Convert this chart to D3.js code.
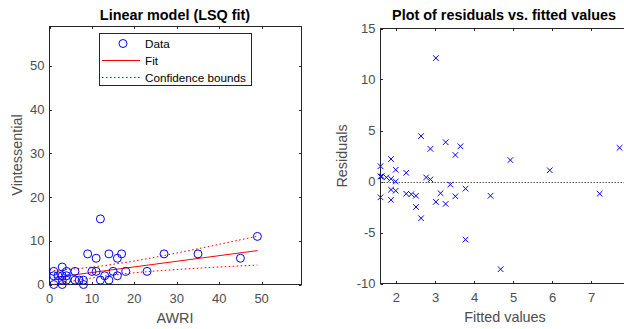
<!DOCTYPE html>
<html><head><meta charset="utf-8">
<script src="https://cdn.jsdelivr.net/npm/d3@7"></script>
<style>
html,body{margin:0;padding:0;background:#fff;}
svg{display:block;font-family:"Liberation Sans",Arial,sans-serif;}
</style></head>
<body><svg id="c" width="624" height="329"></svg>
<script>
// Left panel: observed data (AWRI vs Vintessential)
const awri = [1,1,1,2,3,3,3,3,4,4,4,6,6,7,8,8,9,10,11,11,12,12,13,14,14,15,16,16,17,18,23,27,35,45,49];
const vint = [3,2,0,2,4,2,1,0,3,2,1,3,1,1,1,0,7,3,6,3,15,1,2,7,1,3,6,2,7,3,3,7,7,6,11];
// Fit line and confidence bounds
const fitX = [1,49];
const fitY = [1.59,7.75];
const boundX = [1,7,13,19,25,31,37,43,49];
const upperY = [3.17,3.66,4.33,5.20,6.25,7.39,8.58,9.81,11.05];
const lowerY = [0.01,1.06,1.93,2.60,3.09,3.49,3.84,4.15,4.45];
const leftXTicks = [0,10,20,30,40,50];
const leftYTicks = [0,10,20,30,40,50];
const legendLabels = ["Data","Fit","Confidence bounds"];

// Right panel: residuals vs fitted values
const fitted = [1.59,1.59,1.59,1.62,1.74,1.86,1.86,1.86,1.86,1.98,1.98,1.98,2.25,2.25,2.38,2.50,2.50,2.63,2.63,2.76,2.87,2.87,3.01,3.01,3.13,3.26,3.26,3.38,3.51,3.51,3.64,3.77,3.77,4.41,4.67,4.92,5.93,7.21,7.72];
const resid  = [1.5,0.5,-1.55,0.5,0.4,2.2,0.26,-0.8,-1.8,1.15,0.0,-0.9,0.85,-1.2,-1.25,-1.4,-2.5,4.45,-3.6,0.4,3.2,0.2,12.1,-2.0,-1.15,3.85,-2.2,-0.3,2.6,-1.45,3.45,-0.7,-5.7,-1.4,-8.6,2.1,1.1,-1.2,3.3];
const rightXTicks = [2,3,4,5,6,7];
const rightYTicks = [-10,-5,0,5,10,15];

const svg = d3.select("#c");
const axisCol = "#262626", tickTextCol = "#4d4d4d";
const tickFont = 13, labelFont = 14.4, titleFont = 14.4, legendFont = 11.7;
const dotted = "1.6,2.4";

function frame(g, x, y, xt, yt, tickLen) {
  const [x0,x1] = x.range(), [y0,y1] = y.range();
  const L = Math.min(x0,x1), R = Math.max(x0,x1), B = Math.max(y0,y1), T = Math.min(y0,y1);
  g.append("rect").attr("x",L).attr("y",T).attr("width",R-L).attr("height",B-T)
    .attr("fill","none").attr("stroke",axisCol).attr("stroke-width",1).attr("shape-rendering","crispEdges");
  xt.forEach(v=>{
    const px = Math.round(x(v))+0.5;
    g.append("line").attr("x1",px).attr("x2",px).attr("y1",B).attr("y2",B-tickLen).attr("stroke",axisCol);
    g.append("line").attr("x1",px).attr("x2",px).attr("y1",T).attr("y2",T+tickLen).attr("stroke",axisCol);
    g.append("text").attr("x",x(v)).attr("y",B+18).attr("text-anchor","middle")
      .attr("font-size",tickFont).attr("fill",tickTextCol).text(v);
  });
  yt.forEach(v=>{
    const py = Math.round(y(v))+0.5;
    g.append("line").attr("y1",py).attr("y2",py).attr("x1",L).attr("x2",L+tickLen).attr("stroke",axisCol);
    g.append("line").attr("y1",py).attr("y2",py).attr("x1",R).attr("x2",R-tickLen).attr("stroke",axisCol);
    g.append("text").attr("x",L-5).attr("y",y(v)+4.5).attr("text-anchor","end")
      .attr("font-size",tickFont).attr("fill",tickTextCol).text(v);
  });
}

// ----- Left panel -----
const xL = d3.scaleLinear().domain([0,59.4]).range([49.5,301.5]);
const yL = d3.scaleLinear().domain([0,59]).range([284.5,26.5]);
const gL = svg.append("g");
frame(gL, xL, yL, leftXTicks, leftYTicks, 2.5);

const line = d3.line().x(d=>xL(d[0])).y(d=>yL(d[1]));
gL.append("path").attr("d", line(d3.zip(boundX, upperY))).attr("fill","none")
  .attr("stroke","#ff0000").attr("stroke-width",1).attr("stroke-dasharray",dotted);
gL.append("path").attr("d", line(d3.zip(boundX, lowerY))).attr("fill","none")
  .attr("stroke","#ff0000").attr("stroke-width",1).attr("stroke-dasharray",dotted);
gL.append("path").attr("d", line(d3.zip(fitX, fitY))).attr("fill","none")
  .attr("stroke","#ff0000").attr("stroke-width",1);
gL.selectAll("circle.pt").data(d3.zip(awri, vint)).join("circle").attr("class","pt")
  .attr("cx",d=>xL(d[0])).attr("cy",d=>yL(d[1])).attr("r",4)
  .attr("fill","none").attr("stroke","#0000ff").attr("stroke-width",1);

gL.append("text").attr("x",175).attr("y",20).attr("text-anchor","middle")
  .attr("font-size",titleFont).attr("font-weight","bold").attr("fill","#000").text("Linear model (LSQ fit)");
gL.append("text").attr("x",175).attr("y",323).attr("text-anchor","middle")
  .attr("font-size",labelFont).attr("fill",tickTextCol).text("AWRI");
gL.append("text").attr("transform","translate(22,155) rotate(-90)").attr("text-anchor","middle")
  .attr("font-size",labelFont).attr("fill",tickTextCol).text("Vintessential");

// legend
const lg = gL.append("g");
lg.append("rect").attr("x",99.5).attr("y",33.5).attr("width",152).attr("height",52)
  .attr("fill","#fff").attr("stroke",axisCol).attr("stroke-width",1);
const rowsY = [43.5, 60.5, 77.5];
lg.append("circle").attr("cx",123).attr("cy",rowsY[0]).attr("r",4)
  .attr("fill","none").attr("stroke","#0000ff");
lg.append("line").attr("x1",102).attr("x2",140).attr("y1",rowsY[1]).attr("y2",rowsY[1]).attr("stroke","#ff0000");
lg.append("line").attr("x1",102).attr("x2",140).attr("y1",rowsY[2]).attr("y2",rowsY[2])
  .attr("stroke","#ff0000").attr("stroke-dasharray",dotted);
legendLabels.forEach((t,i)=>{
  lg.append("text").attr("x",145).attr("y",rowsY[i]+4).attr("font-size",legendFont).attr("fill","#000").text(t);
});

// ----- Right panel -----
const xR = d3.scaleLinear().domain([1.59,8.0]).range([380.5,630.5]);
const yR = d3.scaleLinear().domain([-10,15]).range([283.5,28.5]);
const gR = svg.append("g");
frame(gR, xR, yR, rightXTicks, rightYTicks, 2.5);
gR.append("line").attr("x1",xR.range()[0]).attr("x2",xR.range()[1])
  .attr("y1",Math.round(yR(0))+0.5).attr("y2",Math.round(yR(0))+0.5)
  .attr("stroke","#555").attr("stroke-width",1).attr("stroke-dasharray","1.5,1.5");
const s = 2.8;
gR.selectAll("path.x").data(d3.zip(fitted, resid)).join("path").attr("class","x")
  .attr("d",d=>{const cx=xR(d[0]), cy=yR(d[1]);
    return `M${cx-s},${cy-s}L${cx+s},${cy+s}M${cx-s},${cy+s}L${cx+s},${cy-s}`;})
  .attr("fill","none").attr("stroke","#0000ff").attr("stroke-width",1);

gR.append("text").attr("x",504).attr("y",20).attr("text-anchor","middle")
  .attr("font-size",titleFont).attr("font-weight","bold").attr("fill","#000").text("Plot of residuals vs. fitted values");
gR.append("text").attr("x",505).attr("y",322).attr("text-anchor","middle")
  .attr("font-size",labelFont).attr("fill",tickTextCol).text("Fitted values");
gR.append("text").attr("transform","translate(347,156) rotate(-90)").attr("text-anchor","middle")
  .attr("font-size",labelFont).attr("fill",tickTextCol).text("Residuals");
</script></body></html>
